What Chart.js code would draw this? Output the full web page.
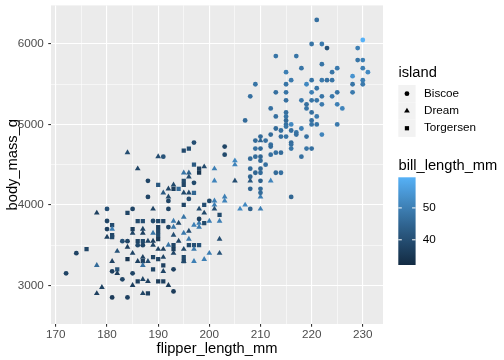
<!DOCTYPE html>
<html>
<head>
<meta charset="utf-8">
<title>Penguins - flipper length vs body mass</title>
<script src="https://cdn.jsdelivr.net/npm/chart.js"></script>
<style>
  html, body { margin: 0; padding: 0; background: #fff; }
  #wrap { width: 504px; height: 360px; }
</style>
</head>
<body>
<div id="wrap"><canvas id="chart" width="504" height="360"></canvas></div>
<script>
// Biscoe (circles): Adelie first, then Gentoo
const biscoeFlipper = [
  188,188,180,185,180,189,180,183,184,186, 187,174,181,185,172,183,181,184,197,203,
  203,191,197,192,196,200,192,198,192,193, 193,
  208,213,215,215,212,207,213,215,215,215, 215,215,216,213,214,216,217,217,212,210,
  209,211,214,215,212,212,216,216,216,209, 210,213,214,212,208,209,210,210,211,208,
  210,209,210,213,214,208,210,208,210,210, 216,208,
  221,220,222,223,230,229,229,230,218,222, 225,230,224,228,231,220,222,223,224,230,
  219,228,230,221,220,225,228,
  222,224,218,220,221,219,219,222,225,226, 220,221,220,220,221,225,218,222,219,219,
  220,218,
  213,217,215,216,209,215
];
const biscoeMass = [
  4300,4100,3950,3950,3800,3800,3700,3550,3550,3500, 3500,3400,3175,3150,3150,3075,2850,2850,4775,4725,
  4625,4600,4275,4050,4075,4050,3950,3825,3725,3200, 2925,
  5350,5400,5400,5300,5200,5050,5100,5150,5100,5050, 5000,4975,5000,4950,4925,4925,4900,4875,4875,4850,
  4800,4800,4850,4850,4750,4725,4775,4750,4700,4700, 4700,4650,4650,4625,4575,4600,4600,4550,4500,4450,
  4450,4400,4400,4400,4400,4350,4300,4200,4200,4150, 4100,3950,
  6300,6000,6000,5950,6050,5950,5800,5800,5700,5750, 5700,5700,5650,5600,5650,5550,5550,5550,5550,5550,
  5500,5500,5500,5450,5400,5400,5400,
  5350,5350,5300,5300,5300,5250,5200,5250,5250,5200, 5150,5100,5050,5000,5000,5000,4950,4875,4850,4700,
  4700,4600,
  5850,5850,5650,5550,5500,5500
];
const biscoeBill = [
  38,38,40.5,38,38,39,37,40.6,38,39, 38,37.8,37,38,37.9,38,36,37,40,38,
  39,41,39,38,40,39,38,37,38,37, 36,
  47,47,48,47,47,46,47,47,48,46, 47,48,52,46,47,47,48,47,46,46,
  46,47,47,48,47,46,46,47,48,47, 46,47,46,47,46,46,45,46,47,46,
  45,45,46,46,47,45,44,45,46,46, 45,44,
  47,48,49,41,59.6,50,48,50,48,48, 49,50,48,54,52,48,49,47,48,50,
  52,48,49,48,50,48,49,
  48,49,49,48,48,47,48,49,50,51, 47,49,47,48,48,49,50,51,47,48,
  47,47,
  48,48,50,49,48,48
];

// Dream (triangles)
const dreamFlipper = [
  184,186,178,189,181,187,185,187,189,180, 188,189,184,189,182,185,187,186,188,181,
  178,187,182,187,188,185,179,178,187,190, 205,205,199,201,195,196,196,201,205,193,
  192,195,196,191,192,203,203,201,201,201, 198,199,206,195,193,200,202,198,197,198,
  193,194,196,195,193,194,196,202,192,190, 191,195,197,200,202,193,191,197,199,195,
  191,192,210,208,212,210,207,210
];
const dreamMass = [
  4650,4450,3900,3950,3700,3700,3650,3650,3650,3600, 3550,3550,3475,3500,3425,3400,3350,3300,3300,3300,
  3250,3250,3150,3075,3050,3000,2975,2900,2900,4600, 4550,4500,4475,4450,4400,4400,4350,4300,4300,4250,
  4200,4150,4150,4150,4100,4100,4050,4050,4000,3950, 3950,3900,3950,3850,3800,3800,3800,3775,3750,3725,
  3725,3775,3675,3650,3625,3550,3575,3575,3500,3450, 3450,3450,3450,3400,3400,3400,3350,3300,3325,3300,
  3175,3000,4800,4300,4300,4100,4000,3950
];
const dreamBill = [
  39.8,38,37.2,38,50,38,38,37,48,37, 38,37,37,38,41,38,37,37,39.5,37.6,
  46,47,36.5,38,37,37,37.5,37,38,39.6, 52,51,39,50,48,44,40,51,40,39,
  38,39,39.2,42.3,39,50,51,50,50,40, 40,39,52,48,49,50,50,49,50,49,
  48,39,40,49,40,38,49,40,48,38, 37,39,49,50,41,38,38,50,50,39,
  38,36,45,42,51,50,52,50
];

// Torgersen (squares)
const torgersenFlipper = [
  184,186,187,181,185,181,181,186,187,176, 189,184,187,189,182,186,188,196,195,197,
  198,198,195,195,193,194,197,199,195,202, 190,190,191,199,190,190,190,190,196,197,
  198,193,193,190,195,195,191,190,191
];
const torgersenMass = [
  3900,3800,3800,3750,3700,3625,3600,3550,3550,3450, 3350,3325,3300,3200,3200,3050,2900,4700,4675,4500,
  4450,4400,4300,4250,4200,4200,4150,4000,4000,3875, 4250,3800,3800,3775,3725,3675,3625,3575,3500,3500,
  3500,3500,3450,3325,3350,3300,3250,3050,3050
];
const torgersenBill = [
  38,39,40,39.1,36.6,38,39,38,39,38, 38,34.4,37,38,41.1,37,37,40,39.2,42.5,
  37,34.6,39,38,36,46,45,40,38,39, 42,38.6,38.6,39,37,38,39,36,39,40,
  41,38,36.7,38,39,38,37,36,37
];

// Axis ticks
const xMajor = [170, 180, 190, 200, 210, 220, 230];
const xMinor = [175, 185, 195, 205, 215, 225];
const yMajor = [3000, 4000, 5000, 6000];
const yMinor = [3500, 4500, 5500];
const billTicks = [40, 50];
const billMin = 32.1;
const billMax = 59.6;

const islandNames = ['Biscoe', 'Dream', 'Torgersen'];
const islandShapes = ['circle', 'triangle', 'rect'];
const islandRadius = [2.4, 3.3, 3.0];

const FONT = '"Liberation Sans", Arial, sans-serif';

// ggplot default continuous colour scale (#132B43 -> #56B1F7), interpolated in Lab
function rgbToLab(rgb) {
  const lin = v => { v /= 255; return v <= 0.04045 ? v / 12.92 : Math.pow((v + 0.055) / 1.055, 2.4); };
  const [r, g, b] = rgb.map(lin);
  const x = (0.4124 * r + 0.3576 * g + 0.1805 * b) / 0.95047;
  const y = 0.2126 * r + 0.7152 * g + 0.0722 * b;
  const z = (0.0193 * r + 0.1192 * g + 0.9505 * b) / 1.08883;
  const f = t => t > 0.008856 ? Math.cbrt(t) : 7.787 * t + 16 / 116;
  return [116 * f(y) - 16, 500 * (f(x) - f(y)), 200 * (f(y) - f(z))];
}
function labToRgb(lab) {
  const fy = (lab[0] + 16) / 116, fx = fy + lab[1] / 500, fz = fy - lab[2] / 200;
  const inv = t => t * t * t > 0.008856 ? t * t * t : (t - 16 / 116) / 7.787;
  const x = inv(fx) * 0.95047, y = inv(fy), z = inv(fz) * 1.08883;
  const r = 3.2406 * x - 1.5372 * y - 0.4986 * z;
  const g = -0.9689 * x + 1.8758 * y + 0.0415 * z;
  const b = 0.0557 * x - 0.2040 * y + 1.0570 * z;
  const gam = v => {
    v = v <= 0.0031308 ? 12.92 * v : 1.055 * Math.pow(v, 1 / 2.4) - 0.055;
    return Math.round(Math.min(1, Math.max(0, v)) * 255);
  };
  return [gam(r), gam(g), gam(b)];
}
const lowLab = rgbToLab([19, 43, 67]);
const highLab = rgbToLab([86, 177, 247]);
function billColor(v) {
  const t = Math.min(1, Math.max(0, (v - billMin) / (billMax - billMin)));
  const c = labToRgb(lowLab.map((lo, k) => lo + (highLab[k] - lo) * t));
  return `rgb(${c[0]}, ${c[1]}, ${c[2]})`;
}

function toPoints(fl, mass, bill) {
  return fl.map((f, i) => ({ x: f, y: mass[i], bill: bill[i] }));
}

const datasets = [
  toPoints(biscoeFlipper, biscoeMass, biscoeBill),
  toPoints(dreamFlipper, dreamMass, dreamBill),
  toPoints(torgersenFlipper, torgersenMass, torgersenBill)
].map((pts, i) => ({
  label: islandNames[i],
  data: pts,
  pointStyle: islandShapes[i],
  pointRadius: islandRadius[i],
  pointBorderWidth: 0,
  backgroundColor: c => billColor(c.raw ? c.raw.bill : 45),
  borderColor: c => billColor(c.raw ? c.raw.bill : 45)
}));

// gray panel behind the points
const panelBg = {
  id: 'panelBg',
  beforeDraw(chart) {
    const { ctx, chartArea: a } = chart;
    ctx.save();
    ctx.fillStyle = '#ffffff';
    ctx.fillRect(0, 0, chart.width, chart.height);
    ctx.fillStyle = '#EBEBEB';
    ctx.fillRect(a.left, a.top, a.right - a.left, a.bottom - a.top);
    ctx.restore();
  }
};

// island shape legend + bill_length colourbar
const sideLegend = {
  id: 'sideLegend',
  afterDraw(chart) {
    const ctx = chart.ctx;
    const keyX = 398.3, keySize = 17.3;
    ctx.save();
    ctx.textBaseline = 'middle';
    ctx.textAlign = 'left';
    ctx.fillStyle = '#000';
    ctx.font = `14.7px ${FONT}`;
    ctx.fillText('island', 398.5, 72.7);

    islandNames.forEach((name, i) => {
      const top = 85 + i * keySize;
      const cy = top + keySize / 2;
      ctx.fillStyle = '#F2F2F2';
      ctx.fillRect(keyX, top, keySize, keySize);
      ctx.fillStyle = '#000';
      ctx.strokeStyle = '#000';
      Chart.helpers.drawPoint(ctx, { pointStyle: islandShapes[i], radius: islandRadius[i], borderWidth: 0, rotation: 0 }, keyX + keySize / 2, cy);
      ctx.font = `11.7px ${FONT}`;
      ctx.fillText(name, 424, cy);
    });

    ctx.font = `14.7px ${FONT}`;
    ctx.fillStyle = '#000';
    ctx.fillText('bill_length_mm', 398.5, 166);

    const barTop = 177.3, barH = 87.7, barW = 17.3;
    const grad = ctx.createLinearGradient(0, barTop + barH, 0, barTop);
    for (let k = 0; k <= 20; k++) {
      grad.addColorStop(k / 20, billColor(billMin + (billMax - billMin) * k / 20));
    }
    ctx.fillStyle = grad;
    ctx.fillRect(keyX, barTop, barW, barH);

    ctx.strokeStyle = '#fff';
    ctx.lineWidth = 1;
    ctx.font = `11.7px ${FONT}`;
    billTicks.forEach(v => {
      const y = barTop + barH - (v - billMin) / (billMax - billMin) * barH;
      ctx.beginPath();
      ctx.moveTo(keyX, y); ctx.lineTo(keyX + 3.5, y);
      ctx.moveTo(keyX + barW - 3.5, y); ctx.lineTo(keyX + barW, y);
      ctx.stroke();
      ctx.fillStyle = '#000';
      ctx.fillText(String(v), 422.7, y);
    });
    ctx.restore();
  }
};

function axisOptions(major, minor, min, max, titleText, isX) {
  const all = major.concat(minor).sort((a, b) => a - b);
  return {
    type: 'linear',
    position: isX ? 'bottom' : 'left',
    min: min,
    max: max,
    afterBuildTicks: s => { s.ticks = all.map(v => ({ value: v })); },
    afterFit: s => {
      // fixed axis sizes, and no label overhang pushing the panel inwards
      if (isX) { s.height = 36; s.paddingLeft = 0; s.paddingRight = 0; }
      else { s.width = 51; s.paddingTop = 0; s.paddingBottom = 0; }
    },
    border: { display: false },
    grid: {
      color: '#ffffff',
      lineWidth: c => major.includes(c.tick.value) ? 1.1 : 0.55,
      tickLength: 2.75,
      tickColor: c => major.includes(c.tick.value) ? '#333333' : 'rgba(0,0,0,0)',
      tickWidth: c => major.includes(c.tick.value) ? 1.1 : 0
    },
    ticks: {
      autoSkip: false,
      maxRotation: 0,
      color: '#4D4D4D',
      padding: isX ? 1 : 4.5,
      font: { family: FONT, size: 11.7 },
      callback: v => major.includes(v) ? String(v) : ''
    },
    title: {
      display: true,
      text: titleText,
      color: '#000',
      font: { family: FONT, size: 14.7 },
      padding: isX ? { top: 0, bottom: 2 } : { top: 4.5, bottom: 0 }
    }
  };
}

new Chart(document.getElementById('chart').getContext('2d'), {
  type: 'scatter',
  data: { datasets: datasets },
  options: {
    responsive: false,
    animation: false,
    layout: { padding: { top: 5.4, right: 121, left: 0, bottom: 0 } },
    plugins: {
      legend: { display: false },
      tooltip: { enabled: false }
    },
    scales: {
      x: axisOptions(xMajor, xMinor, 169.05, 233.95, 'flipper_length_mm', true),
      y: axisOptions(yMajor, yMinor, 2520, 6480, 'body_mass_g', false)
    }
  },
  plugins: [panelBg, sideLegend]
});
</script>
</body>
</html>
